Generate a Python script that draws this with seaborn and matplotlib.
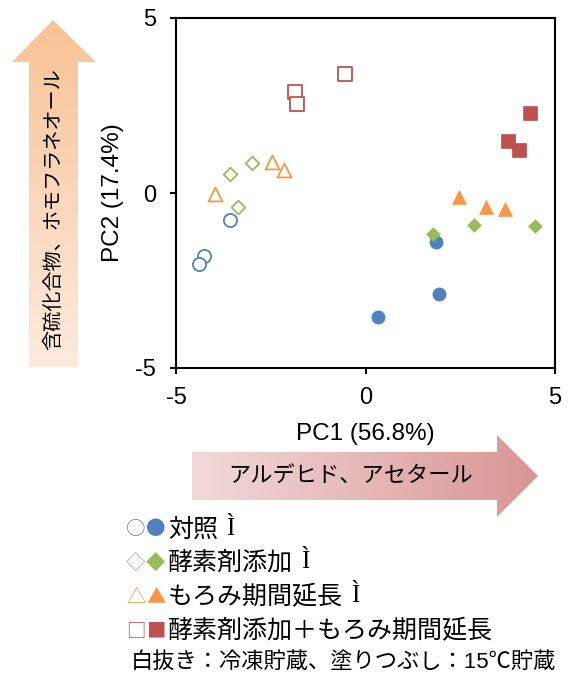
import numpy as np
import pandas as pd
import matplotlib
matplotlib.use("Agg")
import matplotlib.pyplot as plt
from matplotlib.patches import Polygon
from matplotlib.colors import LinearSegmentedColormap
import seaborn as sns

# PCA scores, three replicates per treatment
treatments = ["対照", "酵素剤添加", "もろみ期間延長", "酵素剤添加＋もろみ期間延長"]
frozen_pc1 = [[-3.58, -4.25, -4.40], [-3.57, -3.00, -3.36], [-3.96, -2.46, -2.14], [-0.55, -1.85, -1.82]]
frozen_pc2 = [[-0.78, -1.80, -2.04], [0.54, 0.85, -0.39], [-0.02, 0.88, 0.66], [3.40, 2.89, 2.53]]
warm_pc1 = [[1.86, 1.93, 0.33], [1.79, 2.87, 4.48], [2.46, 3.17, 3.68], [4.33, 3.76, 4.05]]
warm_pc2 = [[-1.39, -2.88, -3.54], [-1.17, -0.90, -0.95], [-0.12, -0.39, -0.47], [2.28, 1.49, 1.23]]

x_label = "PC1 (56.8%)"
y_label = "PC2 (17.4%)"
ticks = [-5, 0, 5]
x_arrow_text = "アルデヒド、アセタール"
y_arrow_text = "含硫化合物、ホモフラネオール"
legend_suffix = ["Ì", "Ì", "Ì", ""]
legend_note = "白抜き：冷凍貯蔵、塗りつぶし：15℃貯蔵"

colors = ["#4F81BD", "#9BBB59", "#F79646", "#C0504D"]
markers = ["o", "D", "^", "s"]
sizes = [90, 48, 100, 96]
open_glyphs = ["○", "◇", "△", "□"]
fill_glyphs = ["●", "◆", "▲", "■"]

rows = []
for t, name in enumerate(treatments):
    for xs, ys, storage in ((frozen_pc1, frozen_pc2, "冷凍"), (warm_pc1, warm_pc2, "15℃")):
        for x, y in zip(xs[t], ys[t]):
            rows.append({"PC1": x, "PC2": y, "treatment": name, "storage": storage})
df = pd.DataFrame(rows)

sns.set_theme(style="white")
plt.rcParams["font.family"] = ["Liberation Sans", "Noto Sans CJK JP"]

W, H = 570, 677
fig = plt.figure(figsize=(W / 100, H / 100), dpi=100)
fig.patch.set_facecolor("white")

ax = fig.add_axes([176 / W, 1 - 368 / H, (555 - 176) / W, (368 - 18) / H])

for t, name in enumerate(treatments):
    sub = df[(df.treatment == name) & (df.storage == "冷凍")]
    sns.scatterplot(data=sub, x="PC1", y="PC2", ax=ax, marker=markers[t], s=sizes[t],
                    facecolor="white", edgecolor=colors[t], linewidth=1.3, zorder=3)
    sub = df[(df.treatment == name) & (df.storage == "15℃")]
    sns.scatterplot(data=sub, x="PC1", y="PC2", ax=ax, marker=markers[t], s=sizes[t],
                    facecolor=colors[t], edgecolor=colors[t], linewidth=0.5, zorder=3)

ax.set_xlim(-5, 5)
ax.set_ylim(-5, 5)
ax.set_xticks(ticks)
ax.set_yticks(ticks)
ax.set_xticklabels([str(v) for v in ticks])
ax.set_yticklabels([str(v) for v in ticks])
for sp in ax.spines.values():
    sp.set_visible(True)
    sp.set_color("black")
    sp.set_linewidth(1.5)
ax.tick_params(axis="both", which="major", direction="out", length=4.5, width=1.5,
               color="black", labelsize=17, labelcolor="black",
               bottom=True, left=True, top=False, right=False)
ax.tick_params(axis="y", pad=10)
ax.tick_params(axis="x", pad=9)
ax.set_xlabel(x_label, fontsize=17.5, labelpad=10, color="black")
ax.set_ylabel(y_label, fontsize=17.5, labelpad=8, color="black")
ax.grid(False)

# overlay in pixel coordinates for arrows and the key
ov = fig.add_axes([0, 0, 1, 1], zorder=-1)
ov.set_xlim(0, W)
ov.set_ylim(H, 0)
ov.axis("off")


def gradient_arrow(verts, c0, c1, vertical):
    poly = Polygon(verts, closed=True, facecolor="none", edgecolor="none")
    ov.add_patch(poly)
    xs = [v[0] for v in verts]
    ys = [v[1] for v in verts]
    cmap = LinearSegmentedColormap.from_list("grad", [c0, c1])
    grad = np.linspace(0, 1, 256)
    grad = grad[:, None] if vertical else grad[None, :]
    im = ov.imshow(grad, cmap=cmap, extent=(min(xs), max(xs), max(ys), min(ys)),
                   aspect="auto", interpolation="bilinear")
    im.set_clip_path(poly)


gradient_arrow([(53, 20), (12, 62), (29, 62), (29, 367), (78, 367), (78, 62), (96, 62)],
               "#F9C296", "#FDEBDE", vertical=True)
gradient_arrow([(192, 452), (497, 452), (497, 435), (538, 476), (497, 517), (497, 500), (192, 500)],
               "#F2DADA", "#D99594", vertical=False)
ov.set_xlim(0, W)
ov.set_ylim(H, 0)

ov.text(54, 209, y_arrow_text, rotation=90, ha="center", va="center", fontsize=14.5, color="black")
ov.text(351, 477, x_arrow_text, ha="center", va="center", fontsize=16, color="black")

# key
key_y = [530, 563, 597, 631]
fig.canvas.draw()
renderer = fig.canvas.get_renderer()
for t, name in enumerate(treatments):
    ov.text(126, key_y[t], open_glyphs[t], ha="left", va="center", fontsize=14,
            color=colors[t], family=["Noto Sans CJK JP"])
    ov.text(146, key_y[t], fill_glyphs[t], ha="left", va="center", fontsize=14,
            color=colors[t], family=["Noto Sans CJK JP"])
    txt = ov.text(168, key_y[t], name, ha="left", va="center", fontsize=18, color="black")
    if legend_suffix[t]:
        bb = txt.get_window_extent(renderer=renderer)
        x_end = bb.x1  # display pixels equal figure pixels at dpi 100
        ov.text(x_end + 8, key_y[t] - 1, legend_suffix[t], ha="left", va="center",
                fontsize=18, color="black", family=["Liberation Serif"])
ov.text(131, 662, legend_note, ha="left", va="center", fontsize=16, color="black")

fig.savefig("out.png", dpi=100, facecolor="white")
